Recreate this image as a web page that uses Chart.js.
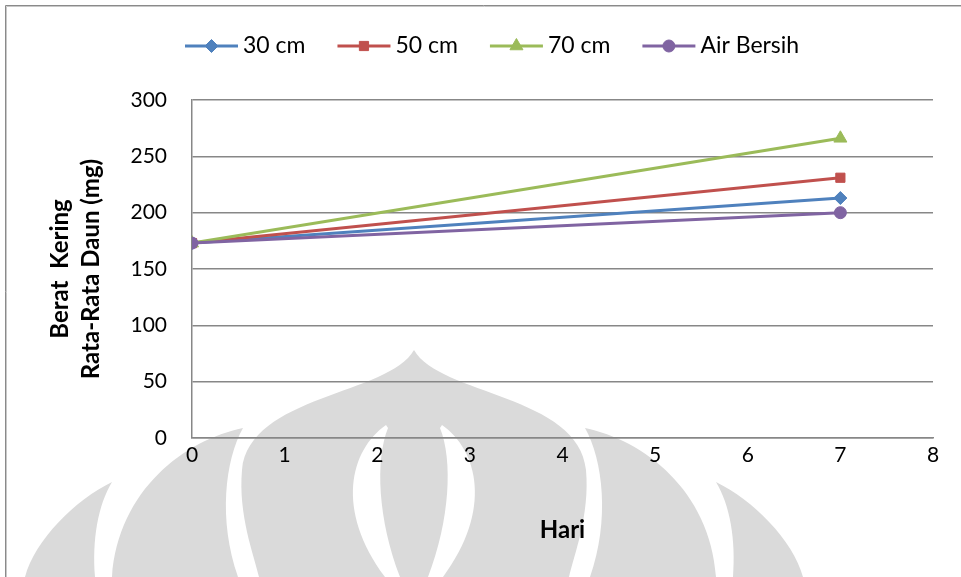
<!DOCTYPE html>
<html>
<head>
<meta charset="utf-8">
<script src="https://cdn.jsdelivr.net/npm/chart.js@4/dist/chart.umd.min.js"></script>
<style>
  html, body { margin: 0; padding: 0; background: #ffffff; }
  #wrap { width: 961px; height: 577px; }
</style>
</head>
<body>
<div id="wrap"><canvas id="chart" width="961" height="577"></canvas></div>
<script>
// Hari pengamatan dan berat kering rata-rata daun (mg)
const days = [0, 7];
const berat30 = [173, 213];
const berat50 = [173, 231];
const berat70 = [173, 266];
const beratAir = [173, 200];
const seriesNames = ['30 cm', '50 cm', '70 cm', 'Air Bersih'];
const xAxisTitle = 'Hari';
const yAxisTitle = ['Berat  Kering', 'Rata-Rata Daun (mg)'];

const FONT = "Lato, 'Open Sans', sans-serif";
const GRID = '#878787';

const styles = [
  { color: '#4F81BD', point: 'rectRot', r: 6.5 },
  { color: '#C0504D', point: 'rect', r: 6.5 },
  { color: '#9BBB59', point: 'triangle', r: 7.5 },
  { color: '#8064A2', point: 'circle', r: 6 }
];
const seriesValues = [berat30, berat50, berat70, beratAir];

const datasets = seriesValues.map((vals, i) => ({
  label: seriesNames[i],
  data: days.map((d, k) => ({ x: d, y: vals[k] })),
  borderColor: styles[i].color,
  backgroundColor: styles[i].color,
  pointBackgroundColor: styles[i].color,
  pointBorderColor: styles[i].color,
  pointBorderWidth: 1,
  pointStyle: styles[i].point,
  pointRadius: styles[i].r,
  borderWidth: 3,
  tension: 0,
  order: seriesValues.length - i
}));

// Frame and faint background emblem behind the plot
const backdrop = {
  id: 'backdrop',
  beforeDraw(chart) {
    const ctx = chart.ctx;
    ctx.save();
    ctx.fillStyle = '#ffffff';
    ctx.fillRect(0, 0, chart.width, chart.height);

    const cx = 414;
    ctx.fillStyle = '#dadada';
    // central bulb
    ctx.beginPath();
    ctx.moveTo(cx, 350);
    ctx.bezierCurveTo(cx - 25, 395, cx - 165, 395, cx - 172, 470);
    ctx.bezierCurveTo(cx - 176, 515, cx - 160, 555, cx - 155, 577);
    ctx.lineTo(cx + 155, 577);
    ctx.bezierCurveTo(cx + 160, 555, cx + 176, 515, cx + 172, 470);
    ctx.bezierCurveTo(cx + 165, 395, cx + 25, 395, cx, 350);
    ctx.closePath();
    ctx.fill();

    [-1, 1].forEach(s => {
      const X = v => cx + s * (v - cx);
      // side petal
      ctx.fillStyle = '#dadada';
      ctx.beginPath();
      ctx.moveTo(X(243), 428);
      ctx.bezierCurveTo(X(185), 440, X(118), 490, X(112), 577);
      ctx.lineTo(X(238), 577);
      ctx.bezierCurveTo(X(218), 520, X(225), 460, X(243), 428);
      ctx.closePath();
      ctx.fill();
      // outer petal
      ctx.beginPath();
      ctx.moveTo(X(112), 482);
      ctx.bezierCurveTo(X(75), 500, X(35), 540, X(25), 577);
      ctx.lineTo(X(95), 577);
      ctx.bezierCurveTo(X(92), 540, X(98), 505, X(112), 482);
      ctx.closePath();
      ctx.fill();
      // inner slit
      ctx.fillStyle = '#ffffff';
      ctx.beginPath();
      ctx.moveTo(X(386), 425);
      ctx.bezierCurveTo(X(350), 450, X(335), 510, X(385), 577);
      ctx.lineTo(X(400), 577);
      ctx.bezierCurveTo(X(378), 520, X(375), 460, X(388), 428);
      ctx.closePath();
      ctx.fill();
    });

    // outer frame
    ctx.strokeStyle = '#8a8a8a';
    ctx.lineWidth = 1;
    ctx.beginPath();
    ctx.moveTo(5.5, 600);
    ctx.lineTo(5.5, 5.5);
    ctx.lineTo(980, 5.5);
    ctx.stroke();
    ctx.strokeStyle = '#c8c8c8';
    ctx.beginPath();
    ctx.moveTo(6.5, 600);
    ctx.lineTo(6.5, 6.5);
    ctx.lineTo(980, 6.5);
    ctx.stroke();
    ctx.restore();
  }
};

// Legend drawn as line-with-marker samples, one row across the top
const lineLegend = {
  id: 'lineLegend',
  afterDraw(chart) {
    const ctx = chart.ctx;
    ctx.save();
    ctx.font = '23px ' + FONT;
    ctx.textBaseline = 'middle';
    ctx.textAlign = 'left';
    let x = 185;
    const y = 46;
    chart.data.datasets.forEach(ds => {
      ctx.strokeStyle = ds.borderColor;
      ctx.lineWidth = 3;
      ctx.beginPath();
      ctx.moveTo(x, y);
      ctx.lineTo(x + 53, y);
      ctx.stroke();
      ctx.fillStyle = ds.pointBackgroundColor;
      ctx.strokeStyle = ds.pointBorderColor;
      ctx.lineWidth = 1;
      Chart.helpers.drawPoint(ctx, {
        pointStyle: ds.pointStyle, radius: ds.pointRadius, rotation: 0, borderWidth: 1
      }, x + 26.5, y);
      ctx.fillStyle = '#000000';
      ctx.fillText(ds.label, x + 58, y);
      x += 58 + ctx.measureText(ds.label).width + 32;
    });
    ctx.restore();
  }
};

new Chart(document.getElementById('chart'), {
  type: 'line',
  data: { datasets },
  options: {
    responsive: false,
    animation: false,
    devicePixelRatio: 1,
    layout: { padding: { top: 100, right: 28, left: 0, bottom: 0 } },
    plugins: {
      legend: { display: false },
      tooltip: { enabled: false }
    },
    scales: {
      x: {
        type: 'linear',
        min: 0,
        max: 8,
        ticks: { stepSize: 1, color: '#000', font: { family: FONT, size: 21 }, padding: 5 },
        grid: { display: false, drawTicks: false },
        border: { display: true, color: GRID, width: 1.5 },
        title: {
          display: true, text: xAxisTitle, color: '#000',
          font: { family: FONT, size: 24, weight: 'bold' },
          padding: { top: 0, bottom: 32 }
        },
        afterFit(scale) { scale.height = 139; }
      },
      y: {
        min: 0,
        max: 300,
        ticks: { stepSize: 50, color: '#000', font: { family: FONT, size: 21 }, padding: 25 },
        grid: { color: GRID, lineWidth: 1.5, drawTicks: false },
        border: { display: true, color: GRID, width: 1.5 },
        title: {
          display: true, text: yAxisTitle, color: '#000',
          font: { family: FONT, size: 24, weight: 'bold', lineHeight: '31px' },
          padding: { top: 45, bottom: 0 }
        },
        afterFit(scale) { scale.width = 192; }
      }
    }
  },
  plugins: [backdrop, lineLegend]
});
</script>
</body>
</html>
